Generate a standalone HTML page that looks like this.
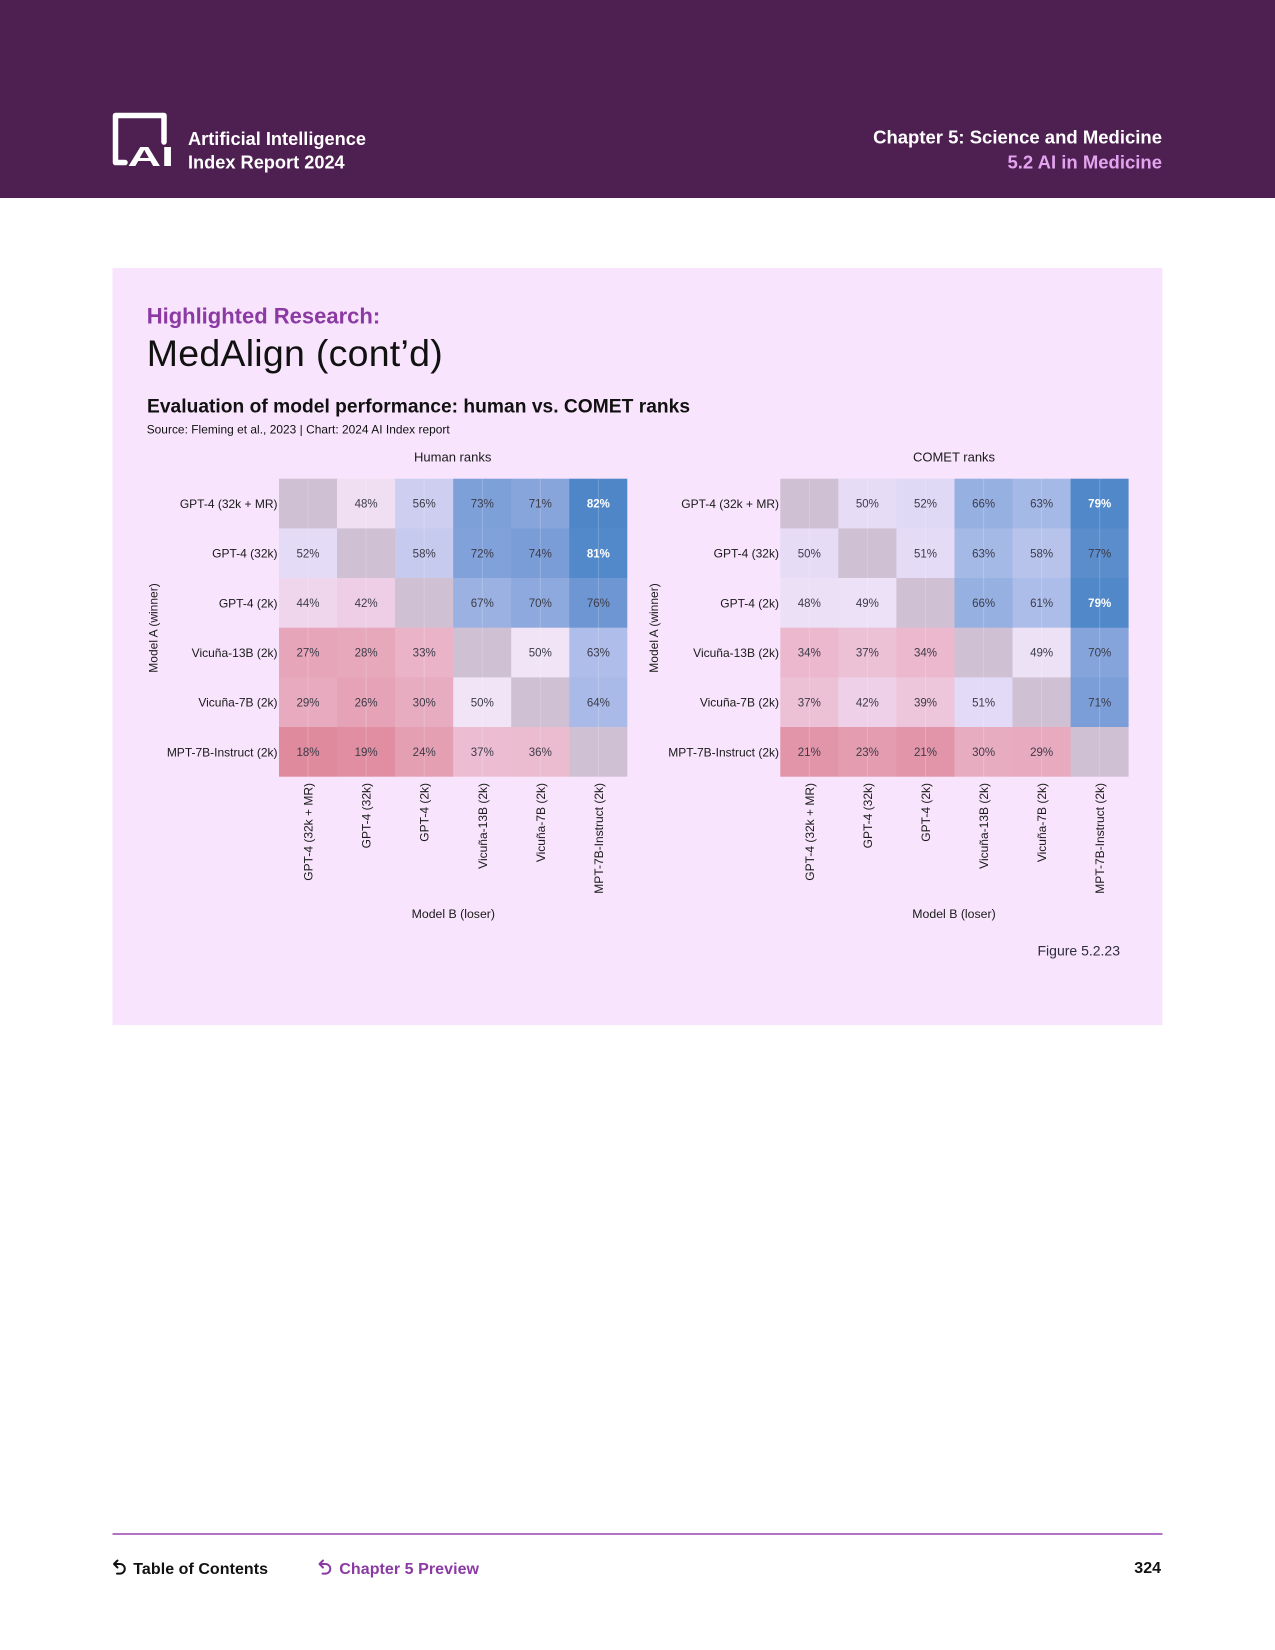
<!DOCTYPE html>
<html>
<head>
<meta charset="utf-8">
<style>
  html, body { margin:0; padding:0; background:#ffffff; }
  body { width:1275px; height:1650px; overflow:hidden; }
  svg { display:block; }
  text { font-family: "Liberation Sans", "DejaVu Sans", sans-serif; }
</style>
</head>
<body>
<svg width="1275" height="1650" viewBox="0 0 1275 1650" xmlns="http://www.w3.org/2000/svg">
  <!-- Header -->
  <rect x="0" y="0" width="1275" height="198" fill="#4e1f51"/>
  <!-- Logo frame -->
  <path d="M125,162.5 L115.5,162.5 L115.5,115.5 L164,115.5 L164,142" fill="none" stroke="#ffffff" stroke-width="5.5" stroke-linecap="round" stroke-linejoin="round"/>
  <text x="127.5" y="166" font-family="Liberation Mono, monospace" font-weight="bold" font-size="28" fill="#ffffff" textLength="46.5" lengthAdjust="spacingAndGlyphs">AI</text>
  <text x="188" y="145" font-size="18.2" font-weight="bold" fill="#ffffff" textLength="178" lengthAdjust="spacing">Artificial Intelligence</text>
  <text x="188" y="168.3" font-size="18.2" font-weight="bold" fill="#ffffff">Index Report 2024</text>
  <text x="1162" y="143.5" font-size="18.5" font-weight="bold" fill="#ffffff" text-anchor="end">Chapter 5: Science and Medicine</text>
  <text x="1162" y="168.3" font-size="18.5" font-weight="bold" fill="#e3a4ef" text-anchor="end">5.2 AI in Medicine</text>

  <!-- Card -->
  <rect x="112.5" y="268" width="1050" height="757" fill="#f8e4fc"/>
  <text x="146.7" y="323.3" font-size="22" font-weight="bold" fill="#8b3aa3">Highlighted Research:</text>
  <text x="146.7" y="366" font-size="37.5" fill="#111111" textLength="296" lengthAdjust="spacing">MedAlign (cont’d)</text>
  <text x="147" y="412.5" font-size="19.2" font-weight="bold" fill="#111111" textLength="543" lengthAdjust="spacing">Evaluation of model performance: human vs. COMET ranks</text>
  <text x="146.7" y="433.5" font-size="11.9" fill="#111111" textLength="303" lengthAdjust="spacing">Source: Fleming et al., 2023 | Chart: 2024 AI Index report</text>

  <!-- ============ Chart 1: Human ranks ============ -->
  <g id="c1">
    <text x="452.7" y="461.7" font-size="13" fill="#1a1a1a" text-anchor="middle">Human ranks</text>
    <text transform="translate(157.5,628) rotate(-90)" font-size="12" fill="#1a1a1a" text-anchor="middle">Model A (winner)</text>
    <g font-size="12" fill="#1a1a1a" text-anchor="end">
      <text x="277.5" y="507.9">GPT-4 (32k + MR)</text>
      <text x="277.5" y="557.6">GPT-4 (32k)</text>
      <text x="277.5" y="607.3">GPT-4 (2k)</text>
      <text x="277.5" y="656.9">Vicuña-13B (2k)</text>
      <text x="277.5" y="706.6">Vicuña-7B (2k)</text>
      <text x="277.5" y="756.3">MPT-7B-Instruct (2k)</text>
    </g>
    <g>
      <rect x="279" y="478.7" width="58.5" height="50.1" fill="#cfc0d3"/>
      <rect x="337" y="478.7" width="58.5" height="50.1" fill="#f0dff2"/>
      <rect x="395.1" y="478.7" width="58.5" height="50.1" fill="#cecff0"/>
      <rect x="453.2" y="478.7" width="58.5" height="50.1" fill="#7da0d8"/>
      <rect x="511.2" y="478.7" width="58.5" height="50.1" fill="#87a5db"/>
      <rect x="569.3" y="478.7" width="58" height="50.1" fill="#4e86c8"/>
      <rect x="279" y="528.4" width="58.5" height="50.1" fill="#e4dbf6"/>
      <rect x="337" y="528.4" width="58.5" height="50.1" fill="#cfc0d3"/>
      <rect x="395.1" y="528.4" width="58.5" height="50.1" fill="#c6caee"/>
      <rect x="453.2" y="528.4" width="58.5" height="50.1" fill="#80a1d9"/>
      <rect x="511.2" y="528.4" width="58.5" height="50.1" fill="#7a9dd7"/>
      <rect x="569.3" y="528.4" width="58" height="50.1" fill="#5289ca"/>
      <rect x="279" y="578" width="58.5" height="50.1" fill="#efd6ec"/>
      <rect x="337" y="578" width="58.5" height="50.1" fill="#eecde6"/>
      <rect x="395.1" y="578" width="58.5" height="50.1" fill="#cfc0d3"/>
      <rect x="453.2" y="578" width="58.5" height="50.1" fill="#9ab1e2"/>
      <rect x="511.2" y="578" width="58.5" height="50.1" fill="#8da9dd"/>
      <rect x="569.3" y="578" width="58" height="50.1" fill="#6d96d2"/>
      <rect x="279" y="627.7" width="58.5" height="50.1" fill="#e6a5b9"/>
      <rect x="337" y="627.7" width="58.5" height="50.1" fill="#e7a8bb"/>
      <rect x="395.1" y="627.7" width="58.5" height="50.1" fill="#eab3c8"/>
      <rect x="453.2" y="627.7" width="58.5" height="50.1" fill="#cfc0d3"/>
      <rect x="511.2" y="627.7" width="58.5" height="50.1" fill="#f0e4f6"/>
      <rect x="569.3" y="627.7" width="58" height="50.1" fill="#aebdea"/>
      <rect x="279" y="677.4" width="58.5" height="50.1" fill="#e7aabe"/>
      <rect x="337" y="677.4" width="58.5" height="50.1" fill="#e6a3b7"/>
      <rect x="395.1" y="677.4" width="58.5" height="50.1" fill="#e8acc0"/>
      <rect x="453.2" y="677.4" width="58.5" height="50.1" fill="#f0e4f6"/>
      <rect x="511.2" y="677.4" width="58.5" height="50.1" fill="#cfc0d3"/>
      <rect x="569.3" y="677.4" width="58" height="50.1" fill="#a9bae8"/>
      <rect x="279" y="727" width="58.5" height="49.7" fill="#e08a9e"/>
      <rect x="337" y="727" width="58.5" height="49.7" fill="#e18ea2"/>
      <rect x="395.1" y="727" width="58.5" height="49.7" fill="#e59fb3"/>
      <rect x="453.2" y="727" width="58.5" height="49.7" fill="#ecbdd2"/>
      <rect x="511.2" y="727" width="58.5" height="49.7" fill="#ebbbcf"/>
      <rect x="569.3" y="727" width="58" height="49.7" fill="#cfc0d3"/>
    </g>
    <g stroke="#ffffff" stroke-opacity="0.2" stroke-width="1">
      <line x1="308" y1="478.7" x2="308" y2="776.7"/>
      <line x1="366.1" y1="478.7" x2="366.1" y2="776.7"/>
      <line x1="424.2" y1="478.7" x2="424.2" y2="776.7"/>
      <line x1="482.3" y1="478.7" x2="482.3" y2="776.7"/>
      <line x1="540.3" y1="478.7" x2="540.3" y2="776.7"/>
      <line x1="598.4" y1="478.7" x2="598.4" y2="776.7"/>
    </g>
    <g font-size="11.5" fill="#3c3b48" text-anchor="middle">
      <text x="366.1" y="507.7">48%</text>
      <text x="424.2" y="507.7">56%</text>
      <text x="482.3" y="507.7">73%</text>
      <text x="540.3" y="507.7">71%</text>
      <text x="598.4" y="507.7" fill="#ffffff" font-weight="bold">82%</text>

      <text x="308" y="557.4">52%</text>
      <text x="424.2" y="557.4">58%</text>
      <text x="482.3" y="557.4">72%</text>
      <text x="540.3" y="557.4">74%</text>
      <text x="598.4" y="557.4" fill="#ffffff" font-weight="bold">81%</text>

      <text x="308" y="607.1">44%</text>
      <text x="366.1" y="607.1">42%</text>
      <text x="482.3" y="607.1">67%</text>
      <text x="540.3" y="607.1">70%</text>
      <text x="598.4" y="607.1">76%</text>

      <text x="308" y="656.7">27%</text>
      <text x="366.1" y="656.7">28%</text>
      <text x="424.2" y="656.7">33%</text>
      <text x="540.3" y="656.7">50%</text>
      <text x="598.4" y="656.7">63%</text>

      <text x="308" y="706.4">29%</text>
      <text x="366.1" y="706.4">26%</text>
      <text x="424.2" y="706.4">30%</text>
      <text x="482.3" y="706.4">50%</text>
      <text x="598.4" y="706.4">64%</text>

      <text x="308" y="756.1">18%</text>
      <text x="366.1" y="756.1">19%</text>
      <text x="424.2" y="756.1">24%</text>
      <text x="482.3" y="756.1">37%</text>
      <text x="540.3" y="756.1">36%</text>
    </g>
    <g font-size="12" fill="#1a1a1a" text-anchor="end">
      <text transform="translate(312.5,783) rotate(-90)">GPT-4 (32k + MR)</text>
      <text transform="translate(370.6,783) rotate(-90)">GPT-4 (32k)</text>
      <text transform="translate(428.7,783) rotate(-90)">GPT-4 (2k)</text>
      <text transform="translate(486.8,783) rotate(-90)">Vicuña-13B (2k)</text>
      <text transform="translate(544.8,783) rotate(-90)">Vicuña-7B (2k)</text>
      <text transform="translate(602.9,783) rotate(-90)">MPT-7B-Instruct (2k)</text>
    </g>
    <text x="453.3" y="918" font-size="12.3" fill="#1a1a1a" text-anchor="middle">Model B (loser)</text>
  </g>

  <!-- ============ Chart 2: COMET ranks ============ -->
  <g transform="translate(501.3,0)">
    <text x="452.7" y="461.7" font-size="13" fill="#1a1a1a" text-anchor="middle">COMET ranks</text>
    <text transform="translate(156.5,628) rotate(-90)" font-size="12" fill="#1a1a1a" text-anchor="middle">Model A (winner)</text>
    <g font-size="12" fill="#1a1a1a" text-anchor="end">
      <text x="277.7" y="507.9">GPT-4 (32k + MR)</text>
      <text x="277.7" y="557.6">GPT-4 (32k)</text>
      <text x="277.7" y="607.3">GPT-4 (2k)</text>
      <text x="277.7" y="656.9">Vicuña-13B (2k)</text>
      <text x="277.7" y="706.6">Vicuña-7B (2k)</text>
      <text x="277.7" y="756.3">MPT-7B-Instruct (2k)</text>
    </g>
    <g>
      <rect x="279" y="478.7" width="58.5" height="50.1" fill="#cfc0d3"/>
      <rect x="337" y="478.7" width="58.5" height="50.1" fill="#e6dcf6"/>
      <rect x="395.1" y="478.7" width="58.5" height="50.1" fill="#e0d9f5"/>
      <rect x="453.2" y="478.7" width="58.5" height="50.1" fill="#96b0e2"/>
      <rect x="511.2" y="478.7" width="58.5" height="50.1" fill="#a5b9e7"/>
      <rect x="569.3" y="478.7" width="58" height="50.1" fill="#5088c9"/>
      <rect x="279" y="528.4" width="58.5" height="50.1" fill="#e6dcf6"/>
      <rect x="337" y="528.4" width="58.5" height="50.1" fill="#cfc0d3"/>
      <rect x="395.1" y="528.4" width="58.5" height="50.1" fill="#e4dbf6"/>
      <rect x="453.2" y="528.4" width="58.5" height="50.1" fill="#a5b9e7"/>
      <rect x="511.2" y="528.4" width="58.5" height="50.1" fill="#b8c3ec"/>
      <rect x="569.3" y="528.4" width="58" height="50.1" fill="#5b8ccb"/>
      <rect x="279" y="578" width="58.5" height="50.1" fill="#ece0f6"/>
      <rect x="337" y="578" width="58.5" height="50.1" fill="#ece1f6"/>
      <rect x="395.1" y="578" width="58.5" height="50.1" fill="#cfc0d3"/>
      <rect x="453.2" y="578" width="58.5" height="50.1" fill="#96b0e2"/>
      <rect x="511.2" y="578" width="58.5" height="50.1" fill="#adbdea"/>
      <rect x="569.3" y="578" width="58" height="50.1" fill="#5088c9"/>
      <rect x="279" y="627.7" width="58.5" height="50.1" fill="#ebb8cd"/>
      <rect x="337" y="627.7" width="58.5" height="50.1" fill="#ecc1d6"/>
      <rect x="395.1" y="627.7" width="58.5" height="50.1" fill="#ebb8cd"/>
      <rect x="453.2" y="627.7" width="58.5" height="50.1" fill="#cfc0d3"/>
      <rect x="511.2" y="627.7" width="58.5" height="50.1" fill="#ede1f6"/>
      <rect x="569.3" y="627.7" width="58" height="50.1" fill="#85a4db"/>
      <rect x="279" y="677.4" width="58.5" height="50.1" fill="#ecc0d5"/>
      <rect x="337" y="677.4" width="58.5" height="50.1" fill="#eed0e8"/>
      <rect x="395.1" y="677.4" width="58.5" height="50.1" fill="#edc6dc"/>
      <rect x="453.2" y="677.4" width="58.5" height="50.1" fill="#e2daf6"/>
      <rect x="511.2" y="677.4" width="58.5" height="50.1" fill="#cfc0d3"/>
      <rect x="569.3" y="677.4" width="58" height="50.1" fill="#7b9ed8"/>
      <rect x="279" y="727" width="58.5" height="49.7" fill="#e295a9"/>
      <rect x="337" y="727" width="58.5" height="49.7" fill="#e49cb0"/>
      <rect x="395.1" y="727" width="58.5" height="49.7" fill="#e295a9"/>
      <rect x="453.2" y="727" width="58.5" height="49.7" fill="#e8acc0"/>
      <rect x="511.2" y="727" width="58.5" height="49.7" fill="#e7aabe"/>
      <rect x="569.3" y="727" width="58" height="49.7" fill="#cfc0d3"/>
    </g>
    <g stroke="#ffffff" stroke-opacity="0.2" stroke-width="1">
      <line x1="308" y1="478.7" x2="308" y2="776.7"/>
      <line x1="366.1" y1="478.7" x2="366.1" y2="776.7"/>
      <line x1="424.2" y1="478.7" x2="424.2" y2="776.7"/>
      <line x1="482.3" y1="478.7" x2="482.3" y2="776.7"/>
      <line x1="540.3" y1="478.7" x2="540.3" y2="776.7"/>
      <line x1="598.4" y1="478.7" x2="598.4" y2="776.7"/>
    </g>
    <g font-size="11.5" fill="#3c3b48" text-anchor="middle">
      <text x="366.1" y="507.7">50%</text>
      <text x="424.2" y="507.7">52%</text>
      <text x="482.3" y="507.7">66%</text>
      <text x="540.3" y="507.7">63%</text>
      <text x="598.4" y="507.7" fill="#ffffff" font-weight="bold">79%</text>

      <text x="308" y="557.4">50%</text>
      <text x="424.2" y="557.4">51%</text>
      <text x="482.3" y="557.4">63%</text>
      <text x="540.3" y="557.4">58%</text>
      <text x="598.4" y="557.4">77%</text>

      <text x="308" y="607.1">48%</text>
      <text x="366.1" y="607.1">49%</text>
      <text x="482.3" y="607.1">66%</text>
      <text x="540.3" y="607.1">61%</text>
      <text x="598.4" y="607.1" fill="#ffffff" font-weight="bold">79%</text>

      <text x="308" y="656.7">34%</text>
      <text x="366.1" y="656.7">37%</text>
      <text x="424.2" y="656.7">34%</text>
      <text x="540.3" y="656.7">49%</text>
      <text x="598.4" y="656.7">70%</text>

      <text x="308" y="706.4">37%</text>
      <text x="366.1" y="706.4">42%</text>
      <text x="424.2" y="706.4">39%</text>
      <text x="482.3" y="706.4">51%</text>
      <text x="598.4" y="706.4">71%</text>

      <text x="308" y="756.1">21%</text>
      <text x="366.1" y="756.1">23%</text>
      <text x="424.2" y="756.1">21%</text>
      <text x="482.3" y="756.1">30%</text>
      <text x="540.3" y="756.1">29%</text>
    </g>
    <g font-size="12" fill="#1a1a1a" text-anchor="end">
      <text transform="translate(312.5,783) rotate(-90)">GPT-4 (32k + MR)</text>
      <text transform="translate(370.6,783) rotate(-90)">GPT-4 (32k)</text>
      <text transform="translate(428.7,783) rotate(-90)">GPT-4 (2k)</text>
      <text transform="translate(486.8,783) rotate(-90)">Vicuña-13B (2k)</text>
      <text transform="translate(544.8,783) rotate(-90)">Vicuña-7B (2k)</text>
      <text transform="translate(602.9,783) rotate(-90)">MPT-7B-Instruct (2k)</text>
    </g>
    <text x="452.7" y="918" font-size="12.3" fill="#1a1a1a" text-anchor="middle">Model B (loser)</text>
  </g>

  <text x="1120" y="955.7" font-size="14" fill="#2e2d3c" text-anchor="end">Figure 5.2.23</text>

  <!-- Footer -->
  <line x1="112.5" y1="1534" x2="1162.5" y2="1534" stroke="#9c44b0" stroke-width="1.6"/>
  <g fill="none" stroke="#111111" stroke-width="2" stroke-linecap="round" stroke-linejoin="round">
    <path d="M114.5,1564 L120,1564 A4.8,4.8 0 0 1 120,1573.6 L117,1573.6"/>
    <path d="M117.5,1560.5 L114,1564 L117.5,1567.5"/>
  </g>
  <text x="133.3" y="1574" font-size="16" font-weight="bold" fill="#111111" textLength="134.7" lengthAdjust="spacing">Table of Contents</text>
  <g fill="none" stroke="#8b3aa3" stroke-width="2" stroke-linecap="round" stroke-linejoin="round">
    <path d="M320,1564 L325.5,1564 A4.8,4.8 0 0 1 325.5,1573.6 L322.5,1573.6"/>
    <path d="M323,1560.5 L319.5,1564 L323,1567.5"/>
  </g>
  <text x="339.3" y="1574" font-size="16" font-weight="bold" fill="#8b3aa3" textLength="139.7" lengthAdjust="spacing">Chapter 5 Preview</text>
  <text x="1161" y="1573" font-size="16" font-weight="bold" fill="#111111" text-anchor="end">324</text>
</svg>
</body>
</html>
